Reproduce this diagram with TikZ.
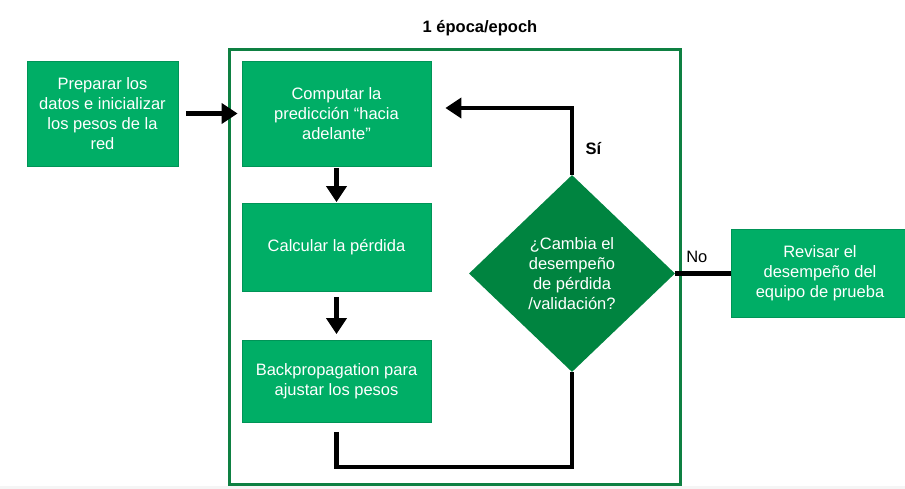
\documentclass[tikz,border=0pt]{standalone}
\usepackage{fontspec}
\setmainfont{Liberation Sans}
\usepackage{tikz}
\usetikzlibrary{positioning}
\usetikzlibrary{shapes.geometric, arrows.meta}
\definecolor{boxgreen}{RGB}{0,174,102}
\definecolor{darkgreen}{RGB}{0,132,64}
\definecolor{framegreen}{RGB}{14,128,66}
\tikzstyle{process} = [rectangle, minimum width=189pt, minimum height=88pt, text centered, align=center, draw=boxgreen!85!black, line width=0.8pt, fill=boxgreen, text=white, font=\fontsize{16.5}{20}\selectfont]
\tikzstyle{decision} = [diamond, minimum width=206pt, minimum height=197pt, inner sep=0pt, text centered, align=center, fill=darkgreen, text=white, font=\fontsize{16.5}{20}\selectfont]
\tikzstyle{epochframe} = [rectangle, minimum width=451pt, minimum height=435pt, draw=framegreen, line width=3pt]
\tikzstyle{arrow} = [line width=4.5pt,-{Triangle[length=16pt,width=20pt]}]
\tikzstyle{link} = [line width=4.5pt]

\begin{document}
\begin{tikzpicture}[x=1pt, y=1pt, node distance=134pt]
\useasboundingbox (0,0) rectangle (905,489);
\fill [black!4] (0,0) rectangle (905,3);

\node (epoch) [epochframe] at (454.5,221.5) {};
\node (epochtitle) [font=\fontsize{16.5}{20}\selectfont\bfseries] at (480,461) {1 época/epoch};

\node (computepred) [process, minimum height=105pt] at (336.5,375.5) {Computar la\\predicción “hacia\\adelante”};
\node (prepdata) [process, minimum width=151pt, minimum height=105pt, left of=computepred, xshift=-100pt] {Preparar los\\datos e inicializar\\los pesos de la\\red};
\node (calcloss) [process, below of=computepred] {Calcular la pérdida};
\node (backprop) [process, minimum height=82pt, below of=calcloss] {Backpropagation para\\ajustar los pesos};
\node (checkperf) [decision] at (572,215.5) {¿Cambia el\\desempeño\\de pérdida\\/validación?};
\node (reviewtest) [process, minimum width=178pt, right of=checkperf, xshift=114pt] {Revisar el\\desempeño del\\equipo de prueba};

\draw [arrow, shorten <=8pt, shorten >=4pt] (prepdata) -- (computepred);
\draw [arrow, shorten <=2pt, shorten >=1pt] (computepred) -- (calcloss);
\draw [arrow, shorten <=5pt, shorten >=6pt] (calcloss) -- (backprop);
\draw [link] ([yshift=-9pt]backprop.south) -- ++(0,-35) -| (checkperf.south);
\draw [arrow] (checkperf.north) |- node[pos=0.2, right=8pt, font=\fontsize{16.5}{20}\selectfont\bfseries] (yeslabel) {Sí} ([xshift=14pt, yshift=5.5pt]computepred.east);
\draw [link] (checkperf.east) -- node[pos=0.39, above=5pt, font=\fontsize{16.5}{20}\selectfont] (nolabel) {No} (reviewtest.west);

\end{tikzpicture}
\end{document}
